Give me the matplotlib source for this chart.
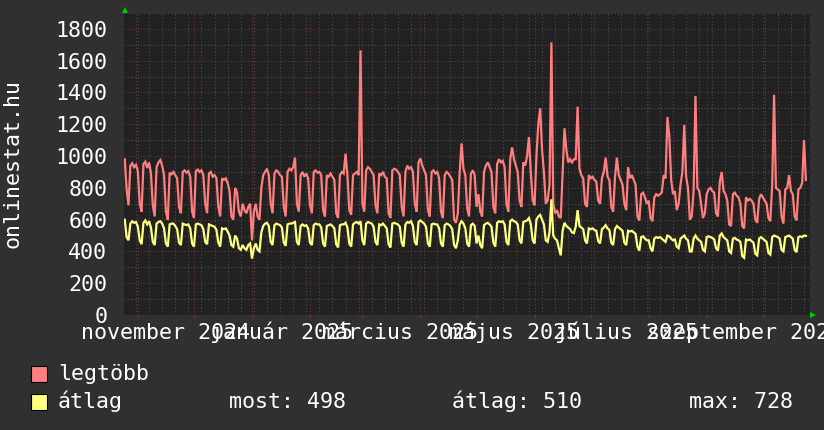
import matplotlib
matplotlib.use("Agg")
import matplotlib.pyplot as plt
import matplotlib.dates as mdates
import matplotlib.ticker as mticker
import matplotlib.transforms as mtransforms
from matplotlib.patches import Rectangle
import pandas as pd

# ---------------- data (daily values, starting 2024-10-25) ----------------
start_date = "2024-10-25"

legtobb = [
    980, 790, 690,
    940, 955, 930, 945, 905, 700, 650,
    950, 965, 925, 960, 890, 690, 620,
    930, 960, 975, 940, 880, 650, 600,
    895, 885, 900, 880, 860, 680, 640,
    900, 910, 895, 905, 870, 650, 610,
    905, 915, 900, 910, 880, 700, 640,
    890, 900, 870, 880, 860, 680, 620,
    860, 850, 860, 830, 780, 620, 600,
    800, 770, 650, 620, 700, 660, 640,
    680, 700, 470, 650, 700, 620, 600,
    800, 880, 900, 920, 880, 700, 640,
    890, 910, 900, 880, 870, 680, 620,
    900, 920, 910, 930, 990, 700, 650,
    880, 900, 870, 890, 860, 690, 640,
    900, 910, 895, 900, 880, 660, 620,
    880, 870, 890, 870, 850, 640, 610,
    880, 900, 890, 1015, 880, 660, 630,
    880, 890, 900, 880, 1665, 700, 650,
    910, 930, 920, 900, 880, 690, 640,
    890, 880, 900, 870, 860, 640, 610,
    910, 920, 915, 900, 880, 680, 620,
    900, 940, 920, 930, 900, 700, 650,
    960, 985, 940, 910, 880, 660, 620,
    900, 910, 890, 900, 860, 650, 610,
    880, 900, 890, 870, 850, 600, 580,
    640, 900, 1080, 920, 880, 670, 620,
    890, 910, 880, 680, 760, 650, 620,
    900, 940, 960, 930, 900, 680, 640,
    950, 980, 960, 970, 930, 700, 650,
    980, 1055, 980, 940, 900, 720, 680,
    960, 940, 1000, 1120, 900, 720, 690,
    1000, 1200, 1300, 1040, 900, 700, 720,
    820, 1715, 700, 640, 660, 620, 610,
    900, 1175, 1040, 960, 980, 960, 980,
    980, 1310, 920, 880, 860, 700, 680,
    880, 860, 870, 850, 840, 720, 700,
    860, 900, 990, 870, 850, 680, 650,
    870, 990, 880, 850, 820, 700, 660,
    930, 860, 880, 850, 820, 620, 595,
    760, 770, 740, 700, 720, 610, 590,
    740, 760, 750, 760, 770, 880, 860,
    1245, 1130, 850, 760, 780, 660, 700,
    820, 900, 1195, 870, 800, 600, 620,
    780, 1378, 800, 780, 700, 610, 640,
    760, 790, 800, 780, 770, 640, 620,
    840, 900, 780, 760, 720, 570, 560,
    760, 770, 750, 740, 700, 560, 545,
    740, 720, 730, 720, 700, 600, 580,
    730, 760, 740, 720, 700, 610, 590,
    820, 1385, 800, 790, 780, 620, 575,
    790, 800, 880, 780, 760, 620, 596,
    790, 800, 830, 1100, 850,
]

atlag = [
    600, 490, 470,
    575, 590, 580, 585, 555, 470, 445,
    580, 595, 570, 590, 550, 460, 440,
    575, 585, 590, 575, 545, 450, 430,
    570, 575, 575, 560, 540, 455, 440,
    575, 570, 565, 570, 545, 450, 430,
    570, 575, 570, 565, 540, 460, 445,
    570, 565, 560, 555, 535, 455, 430,
    545, 540, 545, 525, 500, 440, 430,
    500, 480, 420, 410, 440, 420, 410,
    440, 450, 355, 420, 450, 410, 400,
    520, 560, 575, 580, 560, 460, 440,
    565, 575, 570, 565, 550, 455, 435,
    570, 575, 575, 580, 585, 460, 440,
    560, 570, 560, 565, 545, 455, 440,
    565, 575, 570, 570, 550, 450, 430,
    560, 565, 570, 560, 545, 445, 425,
    565, 570, 570, 580, 550, 450, 430,
    570, 580, 585, 575, 590, 470, 440,
    575, 585, 580, 575, 555, 460, 440,
    570, 565, 575, 560, 545, 445, 425,
    575, 580, 575, 570, 555, 455, 430,
    570, 585, 580, 590, 560, 460, 440,
    585, 595, 585, 575, 555, 450, 430,
    570, 575, 570, 570, 545, 450, 430,
    565, 575, 570, 560, 540, 440, 420,
    470, 570, 590, 575, 545, 450, 430,
    565, 575, 560, 450, 500, 440, 420,
    565, 575, 580, 570, 555, 455, 430,
    580, 590, 585, 590, 570, 460, 440,
    590, 600, 590, 585, 570, 470, 450,
    585, 590, 595, 610, 570, 470, 450,
    600, 620, 630, 600, 570, 470, 460,
    520, 728, 500, 480, 470, 420, 375,
    530, 580, 560, 550, 540, 520, 515,
    555, 660, 560, 550, 540, 470, 450,
    545, 540, 545, 535, 530, 465, 450,
    540, 550, 565, 545, 535, 455, 440,
    540, 560, 550, 540, 530, 455, 440,
    530, 525, 530, 520, 510, 430, 405,
    490, 495, 480, 470, 470, 420, 400,
    480, 490, 485, 490, 480, 470, 460,
    500, 495, 480, 470, 475, 430, 420,
    480, 490, 500, 480, 470, 400, 400,
    480, 500, 480, 470, 460, 410, 400,
    490, 495, 490, 485, 475, 420, 405,
    500, 513, 490, 480, 470, 400, 390,
    480, 485, 475, 470, 460, 370, 360,
    475, 470, 475, 465, 455, 385, 375,
    480, 490, 480, 470, 460, 390, 380,
    490, 500, 495, 490, 480, 410, 400,
    490, 495, 500, 490, 480, 410, 395,
    490, 495, 490, 500, 498,
]

series_names = ["legtöbb", "átlag"]
y_ticks = [0, 200, 400, 600, 800, 1000, 1200, 1400, 1600, 1800]
x_label_dates = ["2024-11-16", "2025-01-17", "2025-03-21",
                 "2025-05-21", "2025-07-20", "2025-09-21"]
x_labels = ["november 2024", "január 2025", "március 2025",
            "május 2025", "július 2025", "szeptember 2025"]
legend_stats = ["most: 498", "átlag: 510", "max: 728"]
y_axis_title = "onlinestat.hu"

# ---------------- style ----------------
W, H = 824, 430
BG = "#303030"
CANVAS = "#212121"
RED = "#ff7f7f"
YEL = "#ffff80"
FONT = "DejaVu Sans Mono"
FS = 15.6

dates = pd.date_range(start_date, periods=len(legtobb), freq="D")
d0 = mdates.date2num(dates[0])

fig = plt.figure(figsize=(W / 100, H / 100), dpi=100, facecolor=BG)
L, R, T, B = 124, 810, 13, 315
ax = fig.add_axes([L / W, 1 - B / H, (R - L) / W, (B - T) / H])
ax.set_facecolor(CANVAS)

ax.plot(dates, legtobb, color=RED, lw=1.6, solid_joinstyle="miter", zorder=3)
ax.plot(dates, atlag, color=YEL, lw=1.6, solid_joinstyle="miter", zorder=3)

ax.set_xlim(d0 - 0.4, d0 + 366.2)
ax.set_ylim(0, 1900)

# grid
ax.xaxis.set_major_locator(mdates.MonthLocator())
ax.xaxis.set_minor_locator(mdates.WeekdayLocator(byweekday=mdates.TH))
ax.yaxis.set_major_locator(mticker.FixedLocator(y_ticks))
ax.yaxis.set_minor_locator(mticker.MultipleLocator(100))
ax.grid(which="minor", color="#4e4e4e", ls=(0, (1, 2)), lw=0.8, zorder=1)
ax.grid(which="major", color="#6e3535", ls=(0, (1, 2)), lw=0.8, zorder=1)
ax.set_axisbelow(True)

ax.set_xticklabels([])
ax.tick_params(axis="x", which="major", length=2, color="#6e3535")
ax.tick_params(axis="x", which="minor", length=0)
ax.tick_params(axis="y", which="both", length=0, pad=12)
ax.set_yticklabels([str(v) for v in y_ticks])
for lab in ax.get_yticklabels():
    lab.set_fontfamily(FONT)
    lab.set_fontsize(FS)
    lab.set_color("white")
for s in ax.spines.values():
    s.set_visible(False)

# x labels
trans = mtransforms.blended_transform_factory(ax.transData, fig.transFigure)
for d, t in zip(x_label_dates, x_labels):
    ax.text(mdates.datestr2num(d), 1 - 339 / H, t, transform=trans,
            ha="center", va="baseline", color="white",
            fontfamily=FONT, fontsize=FS, clip_on=False)

# y axis title
fig.text(13 / W, 1 - 164 / H, y_axis_title, rotation=90, ha="center",
         va="center", color="white", fontfamily=FONT, fontsize=FS)

# green arrows
ax.plot([0.001], [1.009], marker="^", color="#00cc00", ms=5, mew=0,
        transform=ax.transAxes, clip_on=False, zorder=5)
ax.plot([1.005], [0.0], marker=">", color="#00cc00", ms=5, mew=0,
        transform=ax.transAxes, clip_on=False, zorder=5)

# legend
def px_rect(x, y, w, h, color):
    fig.patches.append(Rectangle((x / W, 1 - (y + h) / H), w / W, h / H,
                                 transform=fig.transFigure, facecolor=color,
                                 edgecolor="black", lw=0.8))

px_rect(31.5, 365.5, 16, 16, RED)
px_rect(31.5, 394, 16, 16, YEL)
fig.text(58 / W, 1 - 380 / H, series_names[0], color="white",
         fontfamily=FONT, fontsize=FS, va="baseline")
fig.text(58 / W, 1 - 408 / H, series_names[1], color="white",
         fontfamily=FONT, fontsize=FS, va="baseline")
for xp, t in zip([229, 452, 689], legend_stats):
    fig.text(xp / W, 1 - 408 / H, t, color="white",
             fontfamily=FONT, fontsize=FS, va="baseline")

fig.savefig("out.png", dpi=100, facecolor=BG)
